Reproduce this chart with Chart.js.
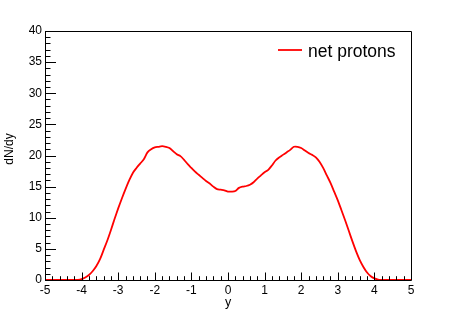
<!DOCTYPE html>
<html><head><meta charset="utf-8">
<script src="https://cdn.jsdelivr.net/npm/chart.js@4/dist/chart.umd.min.js"></script>
<style>html,body{margin:0;padding:0;background:#fff}#wrap{width:457px;height:311px}</style>
</head><body><div id="wrap"><canvas id="c" width="457" height="311"></canvas></div>
<script>
const rapidity = [-5.0,-4.9,-4.8,-4.7,-4.6,-4.5,-4.4,-4.3,-4.2,-4.1,-4.0,-3.9,-3.8,-3.7,-3.6,-3.5,-3.4,-3.3,-3.2,-3.1,-3.0,-2.9,-2.8,-2.7,-2.6,-2.5,-2.4,-2.3,-2.2,-2.1,-2.0,-1.9,-1.8,-1.7,-1.6,-1.5,-1.4,-1.3,-1.2,-1.1,-1.0,-0.9,-0.8,-0.7,-0.6,-0.5,-0.4,-0.3,-0.2,-0.1,0.0,0.1,0.2,0.3,0.4,0.5,0.6,0.7,0.8,0.9,1.0,1.1,1.2,1.3,1.4,1.5,1.6,1.7,1.8,1.9,2.0,2.1,2.2,2.3,2.4,2.5,2.6,2.7,2.8,2.9,3.0,3.1,3.2,3.3,3.4,3.5,3.6,3.7,3.8,3.9,4.0,4.1,4.2,4.3,4.4,4.5,4.6,4.7,4.8,4.9,5.0];
const netProtons = [0,0,0,0,0,0,0,0,0.01,0.03,0.15,0.4,0.8,1.4,2.2,3.3,4.8,6.3,8.0,9.8,11.5,13.1,14.6,16.0,17.2,18.0,18.7,19.4,20.5,21.0,21.3,21.4,21.5,21.4,21.2,20.7,20.2,19.9,19.3,18.6,18.0,17.4,16.9,16.4,15.9,15.5,15.0,14.6,14.5,14.4,14.2,14.2,14.3,14.8,15.0,15.1,15.3,15.7,16.3,16.8,17.3,17.7,18.4,19.2,19.7,20.1,20.5,20.9,21.4,21.4,21.2,20.8,20.4,20.1,19.7,19.0,18.0,16.8,15.6,14.2,12.8,11.2,9.6,7.9,6.2,4.6,3.2,2.1,1.2,0.6,0.25,0.07,0.01,0,0,0,0,0,0,0,0];
const seriesLabel = "net protons";
const xTitle = "y";
const yTitle = "dN/dy";

const FONT = "'Liberation Sans', Arial, Helvetica, sans-serif";

const framePlugin = {
  id: 'frame',
  afterDatasetsDraw(chart) {
    const {ctx, chartArea: a, scales: {x, y}} = chart;
    ctx.save();
    ctx.strokeStyle = '#000';
    ctx.lineWidth = 1;
    ctx.beginPath();
    for (let i = 0; i <= 50; i++) {
      const v = -5 + i * 0.2;
      const px = Math.round(x.getPixelForValue(v)) + 0.5;
      const len = (i % 5 === 0) ? 7.5 : 3.8;
      ctx.moveTo(px, a.bottom);
      ctx.lineTo(px, a.bottom - len);
    }
    for (let i = 0; i <= 40; i++) {
      const py = Math.round(y.getPixelForValue(i)) + 0.5;
      const len = (i % 5 === 0) ? 11 : 5.5;
      ctx.moveTo(a.left, py);
      ctx.lineTo(a.left + len, py);
    }
    ctx.stroke();
    ctx.beginPath();
    ctx.rect(Math.round(a.left) + 0.5, Math.round(a.top) + 0.5, Math.round(a.right - a.left), Math.round(a.bottom - a.top));
    ctx.stroke();
    // legend
    ctx.strokeStyle = '#ff0000';
    ctx.lineWidth = 1.8;
    ctx.beginPath();
    ctx.moveTo(278, 50);
    ctx.lineTo(302, 50);
    ctx.stroke();
    ctx.fillStyle = '#000';
    ctx.font = '17.5px ' + FONT;
    ctx.textAlign = 'left';
    ctx.textBaseline = 'alphabetic';
    ctx.fillText(seriesLabel, 308, 57);
    // y title
    ctx.translate(13, 149);
    ctx.rotate(-Math.PI / 2);
    ctx.font = '12px ' + FONT;
    ctx.textAlign = 'center';
    ctx.fillText(yTitle, 0, 0);
    ctx.restore();
  }
};

new Chart(document.getElementById('c'), {
  type: 'line',
  data: {
    labels: rapidity,
    datasets: [{
      label: seriesLabel,
      data: rapidity.map((v, i) => ({x: v, y: netProtons[i]})),
      borderColor: '#ff0000',
      borderWidth: 1.8,
      pointRadius: 0,
      tension: 0.3,
      fill: false
    }]
  },
  options: {
    responsive: false,
    animation: false,
    devicePixelRatio: 1,
    layout: {padding: {top: 31, right: 46, left: 0, bottom: 0}},
    plugins: {legend: {display: false}, tooltip: {enabled: false}},
    scales: {
      x: {
        type: 'linear', min: -5, max: 5,
        afterFit(s) { s.height = 31; },
        grid: {display: false, drawTicks: false},
        border: {display: false},
        ticks: {stepSize: 1, color: '#000', font: {family: FONT, size: 12}, padding: 3, maxRotation: 0, autoSkip: false},
        title: {display: true, text: xTitle, color: '#000', font: {family: FONT, size: 12.5}, padding: {top: 0, bottom: 1}}
      },
      y: {
        type: 'linear', min: 0, max: 40,
        afterFit(s) { s.width = 45; },
        grid: {display: false, drawTicks: false},
        border: {display: false},
        ticks: {stepSize: 5, color: '#000', font: {family: FONT, size: 12}, padding: 3},
        title: {display: false, text: yTitle}
      }
    }
  },
  plugins: [framePlugin]
});
</script></body></html>
